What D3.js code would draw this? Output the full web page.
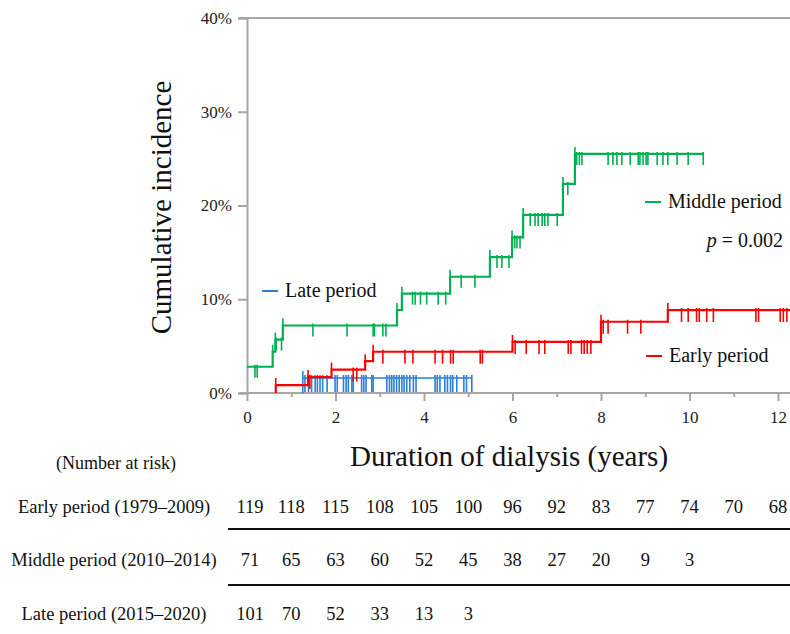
<!DOCTYPE html>
<html>
<head>
<meta charset="utf-8">
<script src="https://cdn.jsdelivr.net/npm/d3@7"></script>
<style>
  body { margin: 0; background: #fff; }
  svg text { font-family: "Liberation Serif", "Times New Roman", serif; }
</style>
</head>
<body>
<div id="chart"></div>
<script>
// Axis ticks
const xTicks = [0, 2, 4, 6, 8, 10, 12];
const yTicks = [0, 0.1, 0.2, 0.3, 0.4];
const riskYears = [0, 1, 2, 3, 4, 5, 6, 7, 8, 9, 10, 11, 12];

// Early period: step times, cumulative incidence after each step, censored times
const earlyTimes = [0.65, 1.38, 1.91, 2.67, 2.85, 6.0, 8.0, 9.51];
const earlyIncidence = [0.0085, 0.017, 0.025, 0.034, 0.044, 0.0545, 0.076, 0.0885];
const earlyEnd = 12.3;
const earlyCensor = [1.42, 2.40, 2.48, 3.07, 3.57, 3.75, 4.25, 4.42, 4.60, 4.66, 5.27, 5.32,
  6.06, 6.31, 6.60, 6.73, 7.26, 7.32, 7.56, 7.62, 7.69, 7.77, 8.05, 8.16, 8.60, 8.90,
  9.82, 9.97, 10.16, 10.22, 10.39, 10.54, 11.50, 11.56, 12.05, 12.12, 12.20];

// Middle period
const middleTimes = [0, 0.58, 0.64, 0.81, 3.39, 3.50, 4.59, 5.49, 5.99, 6.24, 7.14, 7.41];
const middleIncidence = [0.028, 0.044, 0.057, 0.072, 0.0885, 0.106, 0.124, 0.145, 0.166, 0.19, 0.223, 0.255];
const middleEnd = 10.31;
const middleCensor = [0.18, 0.23, 0.66, 0.78, 1.49, 2.26, 2.85, 2.88, 3.07, 3.14, 3.74, 3.80,
  3.92, 4.06, 4.32, 4.49, 4.84, 5.15, 5.65, 5.76, 5.92, 6.05, 6.10, 6.17, 6.40, 6.51,
  6.58, 6.67, 6.73, 6.80, 7.01, 7.25, 7.45, 7.51, 7.57, 8.16, 8.27, 8.36, 8.47, 8.66,
  8.84, 8.88, 8.95, 9.02, 9.06, 9.27, 9.40, 9.51, 9.72, 9.97, 10.31];

// Late period
const lateTimes = [1.26];
const lateIncidence = [0.016];
const lateEnd = 5.08;
const lateCensor = [1.31, 1.39, 1.46, 1.54, 1.59, 1.65, 1.71, 1.81, 1.99, 2.04, 2.18, 2.24,
  2.29, 2.37, 2.40, 2.59, 2.64, 2.69, 2.82, 2.85, 3.16, 3.22, 3.27, 3.32, 3.38, 3.44,
  3.50, 3.55, 3.61, 3.68, 3.76, 3.82, 4.25, 4.30, 4.36, 4.47, 4.53, 4.60, 4.65, 4.74,
  4.90, 4.96, 5.08];

// Number at risk table
const riskLabels = ['Early period (1979\u20132009)', 'Middle period (2010\u20132014)', 'Late period (2015\u20132020)'];
const earlyRisk = [119, 118, 115, 108, 105, 100, 96, 92, 83, 77, 74, 70, 68];
const middleRisk = [71, 65, 63, 60, 52, 45, 38, 27, 20, 9, 3];
const lateRisk = [101, 70, 52, 33, 13, 3];

const width = 790;
const height = 634;
const axisColor = '#a6a6a6';
const serif = '"Liberation Serif", "Times New Roman", serif';

const svg = d3.select('#chart')
  .append('svg')
  .attr('width', width)
  .attr('height', height)
  .attr('font-family', serif);

// Scales
const x = d3.scaleLinear().domain([0, 12]).range([247, 778]);
const y = d3.scaleLinear().domain([0, 0.4]).range([393, 18]);

// Frame: top border and bottom axis line
svg.append('line')
  .attr('x1', 240).attr('x2', width)
  .attr('y1', y(0.4)).attr('y2', y(0.4))
  .attr('stroke', axisColor).attr('stroke-width', 2);
svg.append('line')
  .attr('x1', 240).attr('x2', width)
  .attr('y1', y(0)).attr('y2', y(0))
  .attr('stroke', axisColor).attr('stroke-width', 2);

// Y axis
const yAxis = svg.append('g')
  .attr('transform', `translate(${x(0)},0)`)
  .call(d3.axisLeft(y).tickValues(yTicks).tickSize(9).tickPadding(6).tickFormat(d3.format('.0%')))
  .attr('font-family', serif);
yAxis.select('.domain').attr('stroke', axisColor).attr('stroke-width', 2);
yAxis.selectAll('.tick line').attr('stroke', axisColor).attr('stroke-width', 2);
yAxis.selectAll('.tick text')
  .attr('font-family', serif)
  .attr('font-size', 17)
  .attr('fill', '#222');

// X axis (minor ticks every year, labels on even years)
const xAxis = svg.append('g')
  .attr('transform', `translate(0,${y(0)})`)
  .call(d3.axisBottom(x).tickValues(riskYears).tickSize(8).tickPadding(10)
    .tickFormat((d) => (xTicks.includes(d) ? d : '')))
  .attr('font-family', serif);
xAxis.select('.domain').remove();
xAxis.selectAll('.tick line')
  .attr('stroke', axisColor).attr('stroke-width', 2)
  .attr('y2', (d) => (xTicks.includes(d) ? 8 : 4));
xAxis.selectAll('.tick text')
  .attr('font-family', serif)
  .attr('font-size', 17)
  .attr('fill', '#222');

// Axis titles
svg.append('text')
  .attr('transform', 'rotate(-90)')
  .attr('x', -y(0.2) - 2)
  .attr('y', 171)
  .attr('text-anchor', 'middle')
  .attr('font-size', 29)
  .attr('fill', '#111')
  .text('Cumulative incidence');

svg.append('text')
  .attr('x', 509)
  .attr('y', 466)
  .attr('text-anchor', 'middle')
  .attr('font-size', 29)
  .attr('fill', '#111')
  .text('Duration of dialysis (years)');

// Curves
const series = [
  { times: lateTimes, inc: lateIncidence, end: lateEnd, censor: lateCensor, color: '#2b80d8', width: 1.6, tick: [-3, 14] },
  { times: middleTimes, inc: middleIncidence, end: middleEnd, censor: middleCensor, color: '#00b050', width: 2.2, tick: [-2, 11] },
  { times: earlyTimes, inc: earlyIncidence, end: earlyEnd, censor: earlyCensor, color: '#ff0000', width: 2.2, tick: [-2, 12] },
];

const line = d3.line()
  .x((d) => x(d[0]))
  .y((d) => y(d[1]))
  .curve(d3.curveStepAfter);

// level of a curve at time t
const levelAt = (s, t) => {
  let v = 0;
  s.times.forEach((tt, i) => { if (tt <= t) v = s.inc[i]; });
  return v;
};

series.forEach((s) => {
  const pts = [];
  if (s.times[0] > 0) pts.push([s.times[0], 0]);
  s.times.forEach((t, i) => pts.push([t, s.inc[i]]));
  pts.push([s.end, s.inc[s.inc.length - 1]]);

  const g = svg.append('g');

  g.append('path')
    .datum(pts)
    .attr('d', line)
    .attr('fill', 'none')
    .attr('stroke', s.color)
    .attr('stroke-width', s.width);

  // small overshoot at each step
  g.selectAll('.jump')
    .data(s.times.filter((t) => t > 0))
    .enter()
    .append('line')
    .attr('x1', (d) => x(d)).attr('x2', (d) => x(d))
    .attr('y1', (d) => y(levelAt(s, d)) - 7)
    .attr('y2', (d) => y(levelAt(s, d)))
    .attr('stroke', s.color)
    .attr('stroke-width', 1.6);

  // censor marks
  g.selectAll('.censor')
    .data(s.censor)
    .enter()
    .append('line')
    .attr('x1', (d) => x(d)).attr('x2', (d) => x(d))
    .attr('y1', (d) => y(levelAt(s, d)) + s.tick[0])
    .attr('y2', (d) => y(levelAt(s, d)) + s.tick[1])
    .attr('stroke', s.color)
    .attr('stroke-width', 1.6);
});

// Legend labels
const legend = [
  { name: 'Late period', color: '#2b80d8', x: 262, y: 297 },
  { name: 'Middle period', color: '#00b050', x: 645, y: 208 },
  { name: 'Early period', color: '#ff0000', x: 646, y: 362 },
];
legend.forEach((l) => {
  svg.append('line')
    .attr('x1', l.x).attr('x2', l.x + 16)
    .attr('y1', l.y - 6).attr('y2', l.y - 6)
    .attr('stroke', l.color).attr('stroke-width', 2);
  svg.append('text')
    .attr('x', l.x + 23)
    .attr('y', l.y)
    .attr('font-size', 20)
    .attr('fill', '#111')
    .text(l.name);
});

const pText = svg.append('text')
  .attr('x', 783)
  .attr('y', 247)
  .attr('text-anchor', 'end')
  .attr('font-size', 20)
  .attr('fill', '#111');
pText.append('tspan').attr('font-style', 'italic').text('p');
pText.append('tspan').text(' = 0.002');

// Number at risk table
svg.append('text')
  .attr('x', 116)
  .attr('y', 469)
  .attr('text-anchor', 'middle')
  .attr('font-size', 18)
  .attr('fill', '#111')
  .text('(Number at risk)');

const rows = [earlyRisk, middleRisk, lateRisk];
const rowY = [513, 566, 620];

rows.forEach((vals, r) => {
  svg.append('text')
    .attr('x', 114)
    .attr('y', rowY[r])
    .attr('text-anchor', 'middle')
    .attr('font-size', 18.5)
    .attr('fill', '#111')
    .text(riskLabels[r]);

  svg.append('g')
    .selectAll('text')
    .data(vals)
    .enter()
    .append('text')
    .attr('x', (d, i) => x(riskYears[i]) + (i === 0 ? 3 : 0))
    .attr('y', rowY[r])
    .attr('text-anchor', 'middle')
    .attr('font-size', 18.5)
    .attr('fill', '#111')
    .text((d) => d);
});

// Separators between table rows
[529, 585].forEach((yy) => {
  svg.append('line')
    .attr('x1', 228).attr('x2', width)
    .attr('y1', yy).attr('y2', yy)
    .attr('stroke', '#111').attr('stroke-width', 2);
});
</script>
</body>
</html>
